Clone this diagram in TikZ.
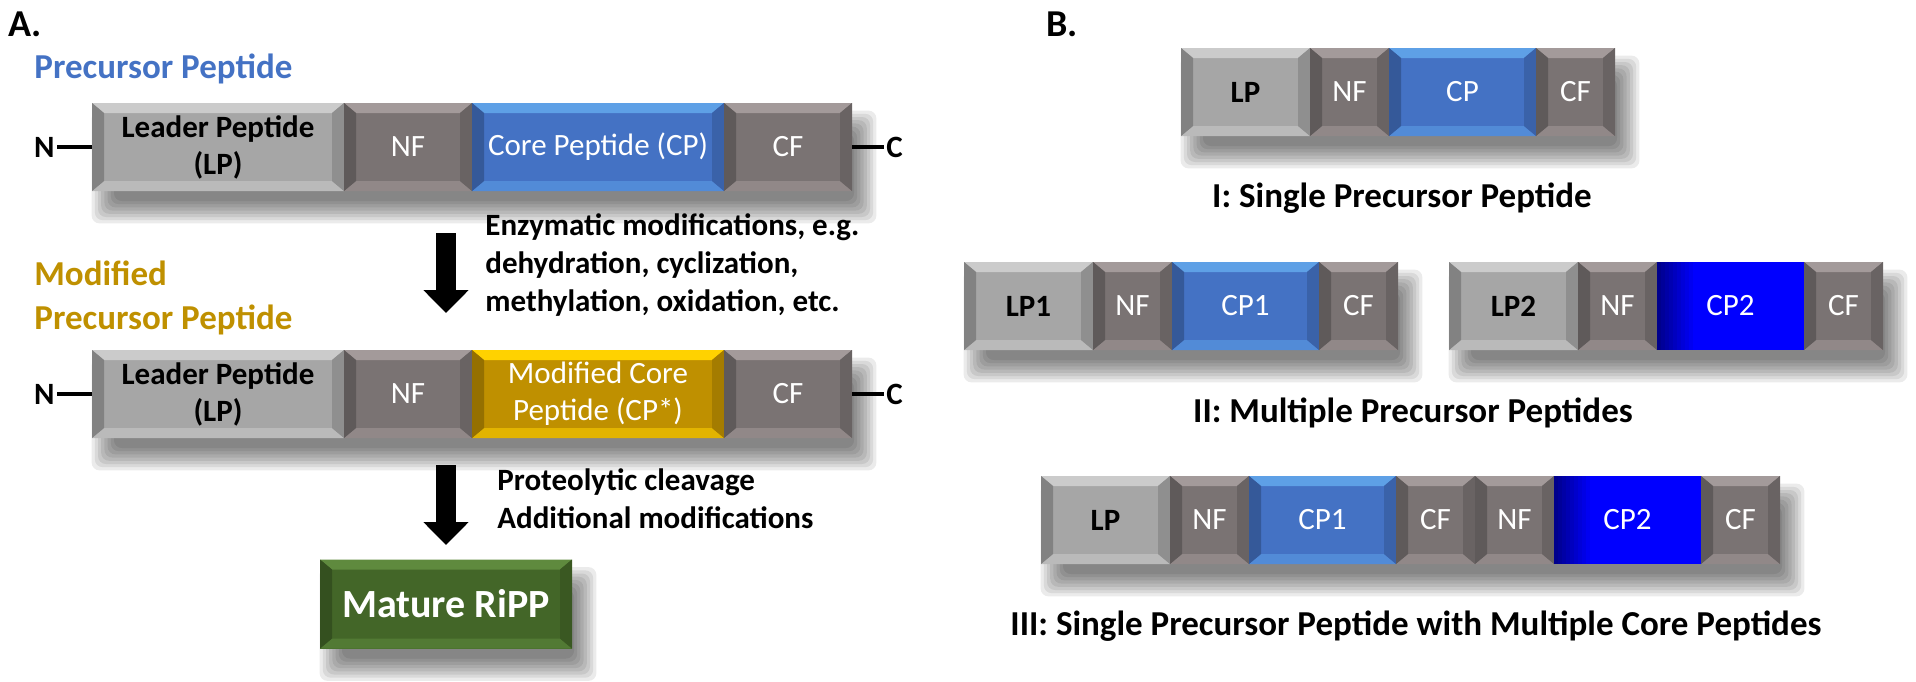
\documentclass[tikz,border=0pt]{standalone}
\usepackage{fontspec}
\setmainfont{Carlito}
\usetikzlibrary{positioning,arrows.meta,backgrounds}

\definecolor{lpgray}{HTML}{A6A6A6}
\definecolor{lptop}{HTML}{CBCBCB}
\definecolor{ffgray}{HTML}{7A7373}
\definecolor{fftop}{HTML}{A39A9A}
\definecolor{cpblue}{HTML}{4472C4}
\definecolor{cptop}{HTML}{5EA0E6}
\definecolor{cpdeep}{HTML}{0000FF}
\definecolor{cpgold}{HTML}{BF9000}
\definecolor{cpyellow}{HTML}{FFD200}
\definecolor{rippgreen}{HTML}{436628}
\definecolor{ripptop}{HTML}{5F8A3E}
\definecolor{titleblue}{HTML}{4472C4}
\definecolor{titlegold}{HTML}{BF9000}

\newcommand{\segfont}{\fontsize{15.5}{18.5}\selectfont}
\newcommand{\capfont}{\fontsize{17.5}{22}\selectfont\bfseries}

% soft shadow under a bar, from its first to its last segment
\newcommand{\dropshade}[2]{%
  \foreach \k in {0,...,7}{%
    \pgfmathsetmacro{\spread}{\k*1.6-5}%
    \fill[black, opacity=0.08, rounded corners=4pt]
      ([shift={({(6-\spread)*1pt},{(-10+\spread)*1pt})}]#1.north west) rectangle
      ([shift={({(6+\spread)*1pt},{(-10-\spread)*1pt})}]#2.south east);
  }}

\tikzset{
  seg/.style={minimum height=44pt, inner sep=0pt, outer sep=0pt, anchor=west,
    align=center, font=\segfont},
  bevel/.style 2 args={fill=#1, path picture={
      \fill[#2] (path picture bounding box.north west) -- (path picture bounding box.north east)
        -- ([shift={(-6pt,-5pt)}]path picture bounding box.north east)
        -- ([shift={(6pt,-5pt)}]path picture bounding box.north west) -- cycle;
      \fill[#2!55!#1] (path picture bounding box.south west) -- (path picture bounding box.south east)
        -- ([shift={(-6pt,5pt)}]path picture bounding box.south east)
        -- ([shift={(6pt,5pt)}]path picture bounding box.south west) -- cycle;
      \fill[#1!78!black] (path picture bounding box.north west) -- (path picture bounding box.south west)
        -- ([shift={(6pt,5pt)}]path picture bounding box.south west)
        -- ([shift={(6pt,-5pt)}]path picture bounding box.north west) -- cycle;
      \fill[#1!86!black] (path picture bounding box.north east) -- (path picture bounding box.south east)
        -- ([shift={(-6pt,5pt)}]path picture bounding box.south east)
        -- ([shift={(-6pt,-5pt)}]path picture bounding box.north east) -- cycle;
    }},
  lpseg/.style={seg, bevel={lpgray}{lptop}, font=\segfont\bfseries},
  ffseg/.style={seg, bevel={ffgray}{fftop}, text=white},
  cpseg/.style={seg, bevel={cpblue}{cptop}, text=white},
  goldseg/.style={seg, bevel={cpgold}{cpyellow}, text=white},
  deepseg/.style={seg, fill=cpdeep, text=white, path picture={
      \foreach \i in {0,...,8}{
        \fill[cpdeep!\the\numexpr 55+\i*5\relax!black]
          ([xshift=\i*2pt]path picture bounding box.north west) rectangle
          ([xshift=\i*2pt+2.2pt]path picture bounding box.south west);
      }
    }},
  lpB/.style={lpseg, minimum width=64.5pt},
  ffB/.style={ffseg, minimum width=39.5pt},
  cpB/.style={cpseg, minimum width=73.5pt},
  deepB/.style={deepseg, minimum width=73.5pt},
  endtext/.style={font=\segfont\bfseries, inner sep=1pt},
  titletext/.style={font=\fontsize{17.5}{22}\selectfont\bfseries, anchor=base west, inner sep=0pt},
  proc/.style={font=\fontsize{15.5}{19}\selectfont\bfseries, align=left, anchor=base west, inner sep=0pt},
  bigarrow/.style={line width=10pt, -{Triangle[width=22pt,length=11.5pt]}},
}

\begin{document}
\begin{tikzpicture}[x=0.5pt, y=-0.5pt]
  \useasboundingbox (0,0) rectangle (1916,681);

  % panel A
  \node[titletext, font=\fontsize{19}{22}\selectfont\bfseries] (labA) at (8,36) {A.};
  \node[titletext, text=titleblue] (ttlPre) at (34,78) {Precursor Peptide};

  \node[lpseg, minimum width=126pt] (lpA) at (92,147) {Leader Peptide\\(LP)};
  \node[ffseg, minimum width=64pt, right=0pt of lpA] (nfA) {NF};
  \node[cpseg, minimum width=126pt, right=0pt of nfA] (cpA) {Core Peptide (CP)};
  \node[ffseg, minimum width=64pt, right=0pt of cpA] (cfA) {CF};
  \node[endtext, anchor=east] (nA) at (57,147) {N};
  \node[endtext, anchor=west] (cA) at (884,147) {C};
  \draw[line width=2pt] (nA) -- (lpA);
  \draw[line width=2pt] (cfA) -- (cA);

  \coordinate (arrA1) at (446,233);
  \coordinate (arrA2) at (446,313);
  \draw[bigarrow] (arrA1) -- (arrA2);
  \node[proc] (txtEnz) at (485,311) {Enzymatic modifications, e.g.\\dehydration, cyclization,\\methylation, oxidation, etc.};

  \node[titletext, text=titlegold] (ttlMod) at (34,285) {Modified};
  \node[titletext, text=titlegold] (ttlMod2) at (34,329) {Precursor Peptide};

  \node[lpseg, minimum width=126pt] (lpM) at (92,394) {Leader Peptide\\(LP)};
  \node[ffseg, minimum width=64pt, right=0pt of lpM] (nfM) {NF};
  \node[goldseg, minimum width=126pt, right=0pt of nfM] (cpM) {Modified Core\\Peptide (CP*)};
  \node[ffseg, minimum width=64pt, right=0pt of cpM] (cfM) {CF};
  \node[endtext, anchor=east] (nM) at (57,394) {N};
  \node[endtext, anchor=west] (cM) at (884,394) {C};
  \draw[line width=2pt] (nM) -- (lpM);
  \draw[line width=2pt] (cfM) -- (cM);

  \coordinate (arrB1) at (446,465);
  \coordinate (arrB2) at (446,545);
  \draw[bigarrow] (arrB1) -- (arrB2);
  \node[proc] (txtPro) at (497,528) {Proteolytic cleavage\\Additional modifications};

  \node[seg, bevel={rippgreen}{ripptop}, minimum width=126pt, minimum height=44.5pt,
    anchor=center, text=white, font=\fontsize{20}{24}\selectfont\bfseries] (ripp) at (446,604) {Mature RiPP};

  % panel B
  \node[titletext, font=\fontsize{19}{22}\selectfont\bfseries] (labB) at (1046,36) {B.};

  \node[lpB] (lpI) at (1181,92) {LP};
  \node[ffB, right=0pt of lpI] (nfI) {NF};
  \node[cpB, right=0pt of nfI] (cpI) {CP};
  \node[ffB, right=0pt of cpI] (cfI) {CF};
  \node[font=\capfont, anchor=base] (capI) at (1402,207) {I: Single Precursor Peptide};

  \node[lpB] (lpIIa) at (964,306) {LP1};
  \node[ffB, right=0pt of lpIIa] (nfIIa) {NF};
  \node[cpB, right=0pt of nfIIa] (cpIIa) {CP1};
  \node[ffB, right=0pt of cpIIa] (cfIIa) {CF};
  \node[lpB] (lpIIb) at (1449,306) {LP2};
  \node[ffB, right=0pt of lpIIb] (nfIIb) {NF};
  \node[deepB, right=0pt of nfIIb] (cpIIb) {CP2};
  \node[ffB, right=0pt of cpIIb] (cfIIb) {CF};
  \node[font=\capfont, anchor=base] (capII) at (1413,422) {II: Multiple Precursor Peptides};

  \node[lpB] (lpIII) at (1041,520) {LP};
  \node[ffB, right=0pt of lpIII] (nfIII) {NF};
  \node[cpB, right=0pt of nfIII] (cp1III) {CP1};
  \node[ffB, right=0pt of cp1III] (cf1III) {CF};
  \node[ffB, right=0pt of cf1III] (nf2III) {NF};
  \node[deepB, right=0pt of nf2III] (cp2III) {CP2};
  \node[ffB, right=0pt of cp2III] (cf2III) {CF};
  \node[font=\capfont, anchor=base] (capIII) at (1416,635) {III: Single Precursor Peptide with Multiple Core Peptides};

  \begin{scope}[on background layer]
    \dropshade{lpA}{cfA}
    \dropshade{lpM}{cfM}
    \dropshade{ripp}{ripp}
    \dropshade{lpI}{cfI}
    \dropshade{lpIIa}{cfIIa}
    \dropshade{lpIIb}{cfIIb}
    \dropshade{lpIII}{cf2III}
  \end{scope}
\end{tikzpicture}
\end{document}
